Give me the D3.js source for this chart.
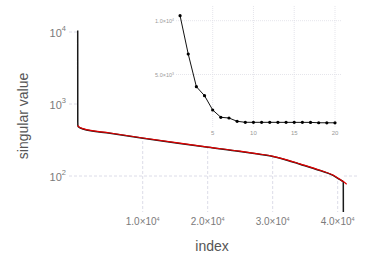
<!DOCTYPE html>
<html>
<head>
<meta charset="utf-8">
<script src="https://cdn.jsdelivr.net/npm/d3@7"></script>
<style>
  body { margin: 0; background: #fff; }
  text { font-family: "Liberation Sans", Arial, sans-serif; -webkit-font-smoothing: antialiased; }
</style>
</head>
<body>
<svg id="chart" width="374" height="280"></svg>
<script>
// first 20 singular values (inset)
var insetIdx = [1, 2, 3, 4, 5, 6, 7, 8, 9, 10, 11, 12, 13, 14, 15, 16, 17, 18, 19, 20];
var insetVals = [10465, 6905, 3866, 3030, 1700, 1022, 957, 650, 558, 556,
                 555, 555, 554, 553, 552, 551, 550, 515, 512, 510];

// rest of the spectrum
var tailIdx = [90, 815, 4970, 10050, 15430, 20050, 24970, 27460, 30050, 32200, 34200, 37280, 39280, 40350, 40860, 40870];
var tailVals = [484, 450, 392, 334, 285, 250, 219, 203, 186, 166, 146, 119, 102, 89, 83, 31.6];

// red reference curve
var redIdx = [1, 90, 815, 4970, 10050, 15430, 20050, 24970, 27460, 30050, 32200, 34200, 37280, 39280, 40350, 40860, 41380];
var redVals = [500, 484, 450, 392, 334, 285, 250, 219, 203, 186, 166, 146, 119, 102, 89, 83, 76];

// ticks
var xTicks = [10000, 20000, 30000, 40000];
var xTickLabels = ['1.0×10', '2.0×10', '3.0×10', '4.0×10'];
var xTickExp = ['4', '4', '4', '4'];
var yTicks = [100, 1000, 10000];
var yTickExp = ['2', '3', '4'];
var insetXTicks = [5, 10, 15, 20];
var insetYTicks = [5000, 10000];
var insetYLabels = ['5.0×10', '1.0×10'];
var insetYExp = ['3', '4'];

var svg = d3.select('#chart');

// main plot area
var pLeft = 69, pRight = 357, pTop = 31, pBottom = 212;

var x = d3.scaleLinear().domain([-1340, 42970]).range([pLeft, pRight]);
var y = d3.scaleLog().domain([Math.pow(10, 1.5), Math.pow(10, 4.014)]).range([pBottom, pTop]);

var black = insetIdx.map(function(d, i) { return { i: d, v: insetVals[i] }; })
  .concat(tailIdx.map(function(d, i) { return { i: d, v: tailVals[i] }; }));
var red = redIdx.map(function(d, i) { return { i: d, v: redVals[i] }; });

// grid
svg.append('g').selectAll('line').data(xTicks).enter().append('line')
  .attr('x1', function(d) { return x(d); })
  .attr('x2', function(d) { return x(d); })
  .attr('y1', pTop).attr('y2', pBottom)
  .attr('stroke', '#dcdce8').attr('stroke-width', 1)
  .attr('stroke-dasharray', '3,2');

svg.append('g').selectAll('line').data(yTicks).enter().append('line')
  .attr('x1', pLeft).attr('x2', pRight)
  .attr('y1', function(d) { return y(d); })
  .attr('y2', function(d) { return y(d); })
  .attr('stroke', '#dcdce8').attr('stroke-width', 1)
  .attr('stroke-dasharray', '3,2');

// white fill above the curve hides the grid there
var fill = d3.area()
  .x(function(d) { return x(d.i); })
  .y0(pTop - 2)
  .y1(function(d) { return y(d.v); })
  .curve(d3.curveMonotoneX);
svg.append('path').datum(black).attr('d', fill).attr('fill', '#fff');
// right of the last index, only the lowest grid line shows
var lastI = tailIdx[tailIdx.length - 1];
svg.append('rect')
  .attr('x', x(lastI)).attr('y', pTop - 2)
  .attr('width', pRight - x(lastI) + 1)
  .attr('height', y(yTicks[0]) - 1 - (pTop - 2))
  .attr('fill', '#fff');

// curves
var line = d3.line()
  .x(function(d) { return x(d.i); })
  .y(function(d) { return y(d.v); })
  .curve(d3.curveMonotoneX);

svg.append('path').datum(black).attr('d', line)
  .attr('fill', 'none').attr('stroke', '#1a1a1a').attr('stroke-width', 1.5);
svg.append('path').datum(red).attr('d', line)
  .attr('fill', 'none').attr('stroke', '#e00000').attr('stroke-width', 1.2)
  .attr('transform', 'translate(0,-0.3)');

// x tick labels
var xl = svg.append('g').selectAll('text').data(xTicks).enter().append('text')
  .attr('x', function(d) { return x(d); })
  .attr('y', 225)
  .attr('text-anchor', 'middle')
  .attr('font-size', 10)
  .attr('fill', '#7a7a7a');
xl.append('tspan').text(function(d, i) { return xTickLabels[i]; });
xl.append('tspan').attr('font-size', 5.5).attr('dy', -4).text(function(d, i) { return xTickExp[i]; });

// y tick labels
var yl = svg.append('g').selectAll('text').data(yTicks).enter().append('text')
  .attr('x', 66)
  .attr('y', function(d) { return y(d) + 5; })
  .attr('text-anchor', 'end')
  .attr('font-size', 11)
  .attr('fill', '#7a7a7a');
yl.append('tspan').text('10');
yl.append('tspan').attr('font-size', 7.5).attr('dy', -6).text(function(d, i) { return yTickExp[i]; });

// axis titles
svg.append('text')
  .attr('transform', 'translate(28,116) rotate(-90)')
  .attr('text-anchor', 'middle')
  .attr('font-size', 14)
  .attr('fill', '#555')
  .text('singular value');

svg.append('text')
  .attr('x', 212).attr('y', 251)
  .attr('text-anchor', 'middle')
  .attr('font-size', 14)
  .attr('fill', '#555')
  .text('index');

// inset
var ix = d3.scaleLinear().domain([0.5, 20.86]).range([176, 342]);
var iy = d3.scaleLinear().domain([0, 10000]).range([128.3, 20.7]);
var inset = svg.append('g');

inset.selectAll('line.gx').data(insetXTicks).enter().append('line')
  .attr('x1', function(d) { return ix(d); })
  .attr('x2', function(d) { return ix(d); })
  .attr('y1', 6).attr('y2', 128)
  .attr('stroke', '#dedee6').attr('stroke-width', 0.8)
  .attr('stroke-dasharray', '1,1');

inset.selectAll('line.gy').data(insetYTicks).enter().append('line')
  .attr('x1', 176).attr('x2', 342)
  .attr('y1', function(d) { return iy(d); })
  .attr('y2', function(d) { return iy(d); })
  .attr('stroke', '#dedee6').attr('stroke-width', 0.8)
  .attr('stroke-dasharray', '1,1');

var insetPts = insetIdx.map(function(d, i) { return { i: d, v: insetVals[i] }; });

inset.append('path').datum(insetPts)
  .attr('d', d3.line().x(function(d) { return ix(d.i); }).y(function(d) { return iy(d.v); }))
  .attr('fill', 'none').attr('stroke', '#111').attr('stroke-width', 1);

inset.selectAll('circle').data(insetPts).enter().append('circle')
  .attr('cx', function(d) { return ix(d.i); })
  .attr('cy', function(d) { return iy(d.v); })
  .attr('r', 1.6)
  .attr('fill', '#000');

inset.append('g').selectAll('text').data(insetXTicks).enter().append('text')
  .attr('x', function(d) { return ix(d); })
  .attr('y', 135)
  .attr('text-anchor', 'middle')
  .attr('font-size', 6)
  .attr('fill', '#999')
  .text(function(d) { return d; });

var iyl = inset.append('g').selectAll('text').data(insetYTicks).enter().append('text')
  .attr('x', 174)
  .attr('y', function(d) { return iy(d) + 2; })
  .attr('text-anchor', 'end')
  .attr('font-size', 5.5)
  .attr('fill', '#999');
iyl.append('tspan').text(function(d, i) { return insetYLabels[i]; });
iyl.append('tspan').attr('font-size', 3.5).attr('dy', -2).text(function(d, i) { return insetYExp[i]; });
</script>
</body>
</html>
